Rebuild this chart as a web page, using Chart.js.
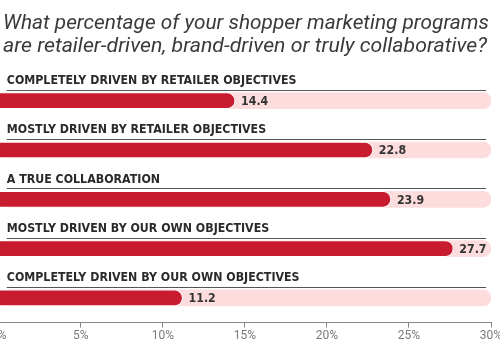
<!DOCTYPE html>
<html>
<head>
<meta charset="utf-8">
<script src="https://cdn.jsdelivr.net/npm/chart.js@4/dist/chart.umd.min.js"></script>
<style>
  html, body { margin: 0; padding: 0; background: #fff; overflow: hidden; }
  #wrap { position: absolute; left: -10px; top: 0; width: 520px; height: 350px; }
</style>
</head>
<body>
<div id="wrap"><canvas id="shopperChart"></canvas></div>
<script>
const headline = [
  "What percentage of your shopper marketing programs",
  "are retailer-driven, brand-driven or truly collaborative?"
];
const headlineWidths = [486, 484];
const categories = [
  "COMPLETELY DRIVEN BY RETAILER OBJECTIVES",
  "MOSTLY DRIVEN BY RETAILER OBJECTIVES",
  "A TRUE COLLABORATION",
  "MOSTLY DRIVEN BY OUR OWN OBJECTIVES",
  "COMPLETELY DRIVEN BY OUR OWN OBJECTIVES"
];
const shares = [14.4, 22.8, 23.9, 27.7, 11.2];
const trackMax = 30;
const tickValues = [0, 5, 10, 15, 20, 25, 30];

const RED = "#c81b30";
const PINK = "#fddcdd";
const LABEL_FONT = "bold 13px 'DejaVu Sans', sans-serif";
const SQUEEZE = 0.85; // narrow the bold caption type horizontally

function scaledText(ctx, text, x, y, sx) {
  ctx.save();
  ctx.translate(x, y);
  ctx.scale(sx, 1);
  ctx.fillText(text, 0, 0);
  ctx.restore();
}

// headline text, category captions with rule, and value labels
const annotate = {
  id: "annotate",
  afterDraw(chart) {
    const ctx = chart.ctx;
    const x = chart.scales.x;
    const y = chart.scales.y;
    ctx.save();

    ctx.fillStyle = "#3a3a3a";
    ctx.font = "italic 21px Roboto, sans-serif";
    ctx.textBaseline = "alphabetic";
    ctx.textAlign = "left";
    headline.forEach((line, i) => {
      const sx = headlineWidths[i] / ctx.measureText(line).width;
      scaledText(ctx, line, 13, 29 + i * 23, sx);
    });

    categories.forEach((name, i) => {
      const cy = y.getPixelForValue(i);
      ctx.font = LABEL_FONT;
      ctx.fillStyle = "#2a2a2a";
      ctx.textBaseline = "middle";
      scaledText(ctx, name, x.left + 8, cy - 20, SQUEEZE);
      ctx.strokeStyle = "#555";
      ctx.lineWidth = 1;
      ctx.beginPath();
      ctx.moveTo(x.left + 8, Math.round(cy - 11) + 0.5);
      ctx.lineTo(x.getPixelForValue(29.7), Math.round(cy - 11) + 0.5);
      ctx.stroke();

      ctx.fillStyle = "#333";
      scaledText(ctx, shares[i].toFixed(1), x.getPixelForValue(shares[i]) + 6, cy + 1, SQUEEZE);
    });
    ctx.restore();
  }
};

new Chart(document.getElementById("shopperChart"), {
  type: "bar",
  data: {
    labels: categories,
    datasets: [
      {
        data: shares,
        backgroundColor: RED,
        borderColor: "#fff",
        borderWidth: 1,
        borderSkipped: "start",
        borderRadius: 8,
        barThickness: 16,
        grouped: false,
        order: 0
      },
      {
        data: categories.map(() => trackMax),
        backgroundColor: PINK,
        borderWidth: 0,
        borderSkipped: false,
        borderRadius: 8,
        barThickness: 16,
        grouped: false,
        order: 1
      }
    ]
  },
  options: {
    indexAxis: "y",
    responsive: true,
    maintainAspectRatio: false,
    animation: false,
    layout: { padding: { top: 76, right: 19, bottom: 6, left: 0 } },
    plugins: {
      legend: { display: false },
      tooltip: { enabled: false }
    },
    scales: {
      x: {
        min: 0,
        max: trackMax,
        afterBuildTicks(scale) {
          scale.ticks = tickValues.map(v => ({ value: v }));
        },
        grid: { drawOnChartArea: false, color: "#888", tickLength: 5 },
        border: { color: "#888", width: 1 },
        ticks: {
          color: "#7a7a7a",
          font: { family: "Roboto, sans-serif", size: 12 },
          padding: 1,
          maxRotation: 0,
          callback: v => v + "%"
        }
      },
      y: {
        grid: { display: false },
        border: { color: "#999", width: 1 },
        ticks: { display: false }
      }
    }
  },
  plugins: [annotate]
});
</script>
</body>
</html>
